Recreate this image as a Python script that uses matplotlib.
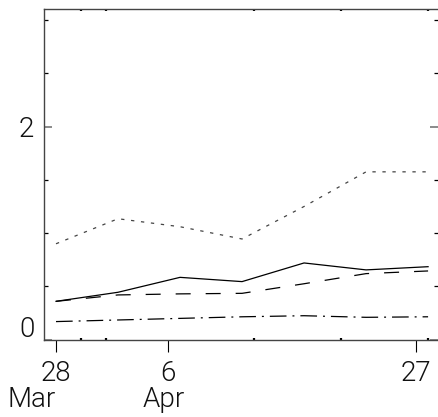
import matplotlib
matplotlib.use("Agg")
import matplotlib.pyplot as plt
import matplotlib.transforms as mtransforms
import numpy as np

# Days since 28 Mar for each sample
days = [0, 5, 10, 15, 20, 25, 30]

series_solid = [0.36, 0.445, 0.585, 0.545, 0.72, 0.655, 0.685]
series_dashed = [0.36, 0.42, 0.43, 0.435, 0.525, 0.62, 0.645]
series_dashdot = [0.17, 0.185, 0.20, 0.215, 0.225, 0.21, 0.215]
series_dotted = [0.90, 1.135, 1.06, 0.945, 1.25, 1.575, 1.575]

major_days = [0, 9, 29]
major_labels = ["28", "6", "27"]
minor_days = [2, 4, 16, 23, 30]
month_names = ["Mar", "Apr"]
month_days = [-1.96, 8.7]

y_major = [0, 2]
y_minor = [0.5, 1.0, 1.5, 2.5, 3.0]

plt.rcParams["font.family"] = ["Roboto", "DejaVu Sans"]
plt.rcParams["font.weight"] = 300
plt.rcParams["lines.scale_dashes"] = False
FS = 20
TXT = "#111111"

fig = plt.figure(figsize=(4.38, 4.17), dpi=100)
ax = fig.add_axes([44 / 438, 77.3 / 417, 394 / 438, 330.4 / 417])

ax.plot(days, series_solid, color="black", lw=0.9, solid_joinstyle="miter")
ax.plot(days, series_dashed, color="black", lw=0.9, dashes=(10.8, 10.8))
ax.plot(days, series_dashdot, color="black", lw=0.9, dashes=(12, 4.3, 1.4, 4.3))
ax.plot(days, series_dotted, color="#444444", lw=0.9, dashes=(2.4, 4.8))

ax.set_xlim(-0.968, 30.8)
ax.set_ylim(0, 3.1)

for side in ["left", "top", "bottom"]:
    ax.spines[side].set_color("#444444")
    ax.spines[side].set_linewidth(1.0)
ax.spines["right"].set_visible(False)

ax.set_xticks(major_days)
ax.set_xticklabels(major_labels, fontsize=FS, color=TXT)
ax.set_xticks(minor_days, minor=True)
ax.set_yticks(y_major)
ax.set_yticklabels([str(v) for v in y_major], fontsize=FS, color=TXT)
ax.set_yticks(y_minor, minor=True)

ax.tick_params(axis="x", which="major", direction="out", length=8.6,
               width=0.8, top=False, pad=6)
ax.tick_params(axis="x", which="minor", direction="in", length=1.5,
               width=1.6, top=True)
ax.tick_params(axis="y", which="major", direction="in", length=6,
               width=1.2, color="#777777", right=True, pad=7)
ax.tick_params(axis="y", which="minor", direction="in", length=3,
               width=0.9, right=True)

# the zero label sits just above the axis line
zero_label = ax.get_yticklabels()[0]
zero_label.set_transform(zero_label.get_transform() +
                         mtransforms.ScaledTranslation(0, 9.5 / 72, fig.dpi_scale_trans))

month_tf = mtransforms.blended_transform_factory(ax.transData, fig.transFigure)
for d, name in zip(month_days, month_names):
    ax.text(d, 1 - 407 / 417, name, transform=month_tf, ha="center",
            va="baseline", fontsize=FS, color=TXT)

fig.savefig("out.png", dpi=100)
